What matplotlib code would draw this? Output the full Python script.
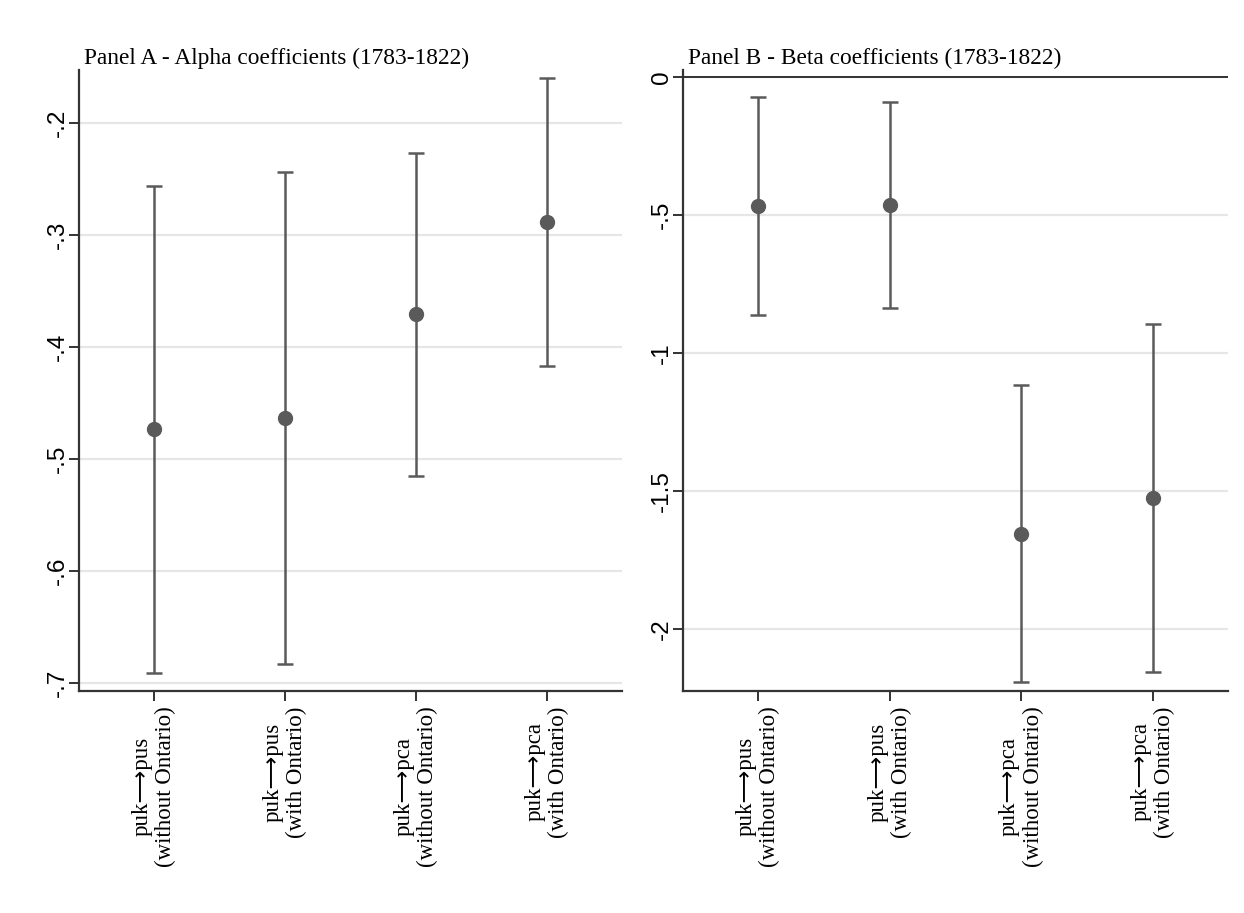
import matplotlib
matplotlib.use("Agg")
import matplotlib.pyplot as plt

plt.rcParams['font.family'] = ['Liberation Serif', 'DejaVu Sans']

labels = ["puk\u27f6pus\n(without Ontario)", "puk\u27f6pus\n(with Ontario)",
          "puk\u27f6pca\n(without Ontario)", "puk\u27f6pca\n(with Ontario)"]

alpha_est = [-0.473, -0.463, -0.3705, -0.288]
alpha_lo = [-0.691, -0.683, -0.515, -0.417]
alpha_hi = [-0.256, -0.244, -0.227, -0.160]

beta_est = [-0.469, -0.465, -1.656, -1.526]
beta_lo = [-0.864, -0.839, -2.194, -2.158]
beta_hi = [-0.073, -0.091, -1.115, -0.894]

pt_color = "#5a5a5a"
grid_color = "#e6e6e6"
axis_color = "#333333"

fig = plt.figure(figsize=(12.44, 9.13), dpi=100)
axA = fig.add_axes([0.0635, 0.2432, 0.4365, 0.6801])
axB = fig.add_axes([0.549, 0.2432, 0.4381, 0.6801])


def draw(ax, est, lo, hi, yticks, yticklabels, ylim, title):
    x = list(range(1, len(est) + 1))
    for yt in yticks:
        ax.axhline(yt, color=grid_color, lw=1.6, zorder=0)
    err = [[e - l for e, l in zip(est, lo)], [h - e for e, h in zip(est, hi)]]
    ax.errorbar(x, est, yerr=err, fmt="o", color=pt_color, ms=10,
                elinewidth=1.8, capsize=6, capthick=1.8, zorder=3)
    ax.set_xlim(0.43, 4.57)
    ax.set_ylim(*ylim)
    ax.set_yticks(yticks)
    ax.set_yticklabels(yticklabels, rotation=90, va="center", fontsize=17.5,
                       family=["Liberation Sans"])
    ax.set_xticks(x)
    ax.set_xticklabels(labels, rotation=90, ha="center", va="top",
                       multialignment="center", fontsize=16.5, linespacing=1.15)
    for s in ["top", "right"]:
        ax.spines[s].set_visible(False)
    for s in ["left", "bottom"]:
        ax.spines[s].set_color(axis_color)
        ax.spines[s].set_linewidth(1.6)
    ax.tick_params(axis="both", length=7, width=1.4, color=axis_color)
    ax.tick_params(axis="y", pad=0.5)
    ax.tick_params(axis="x", pad=4)
    ax.set_title(title, loc="left", fontsize=16.8, x=0.01, pad=4)


draw(axA, alpha_est, alpha_lo, alpha_hi,
     [-0.7, -0.6, -0.5, -0.4, -0.3, -0.2],
     ["-.7", "-.6", "-.5", "-.4", "-.3", "-.2"],
     (-0.7071, -0.1527), "Panel A - Alpha coefficients (1783-1822)")

draw(axB, beta_est, beta_lo, beta_hi,
     [-2, -1.5, -1, -0.5, 0],
     ["-2", "-1.5", "-1", "-.5", "0"],
     (-2.225, 0.025), "Panel B - Beta coefficients (1783-1822)")
axB.axhline(0, color=axis_color, lw=1.4, zorder=1)

fig.savefig("out.png", dpi=100, facecolor="white")
